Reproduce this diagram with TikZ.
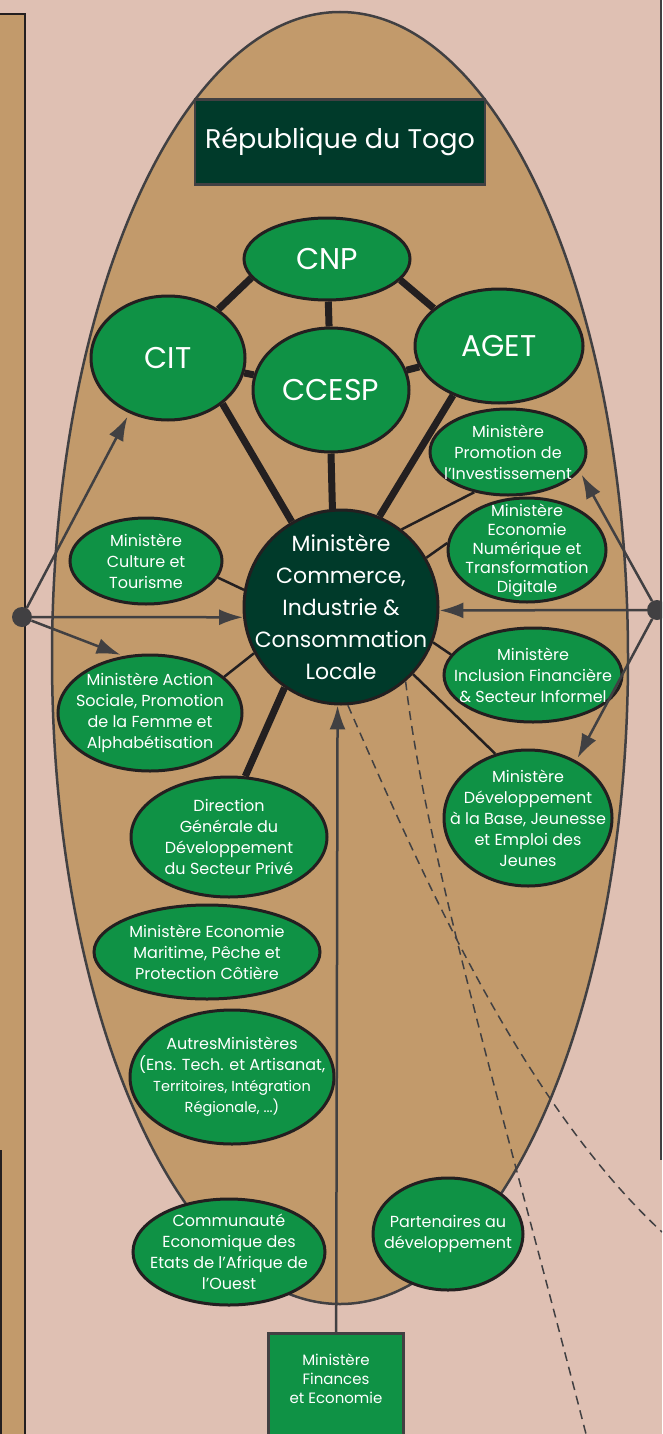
\documentclass[tikz,border=0pt]{standalone}
\usepackage{fontspec}
\setmainfont{Poppins}
\usetikzlibrary{shapes, arrows.meta}
\definecolor{togopink}{HTML}{DFC0B3}
\definecolor{togobrown}{HTML}{C29A6B}
\definecolor{togogreen}{HTML}{0F9245}
\definecolor{togodark}{HTML}{003A2A}
\definecolor{inkgray}{HTML}{414042}
\definecolor{inkblack}{HTML}{231F20}
\tikzset{
  minis/.style={
    ellipse, draw=inkblack, fill=togogreen, line width=3pt,
    inner sep=-50pt, align=center, text=white,
    font=\fontsize{16}{21}\selectfont,
  },
  organe/.style={minis, font=\fontsize{30}{36}\selectfont},
  hub/.style={minis, fill=togodark, font=\fontsize{22}{32}\selectfont},
  titlebox/.style={
    rectangle, draw=inkgray, fill=togodark, line width=2.5pt,
    minimum width=290pt, minimum height=85pt,
    text=white, font=\fontsize{27}{32}\selectfont,
  },
  finbox/.style={
    rectangle, draw=inkgray, fill=togogreen, line width=3pt,
    minimum width=135pt, align=center, text=white,
    font=\fontsize{15}{19}\selectfont,
  },
  joint/.style={circle, fill=inkgray, minimum size=20pt, inner sep=0pt},
  tie/.style={line width=2.5pt, draw=inkblack},
  thicktie/.style={line width=7pt, draw=inkblack},
  arrow/.style={
    -{Latex[length=24pt, width=16pt]}, line width=2.5pt, draw=inkgray,
  },
  dashlink/.style={line width=1.5pt, draw=inkgray, dash pattern=on 9pt off 6pt},
}

\begin{document}
\begin{tikzpicture}[x=1pt, y=-1pt]

  \clip (0,0) rectangle (662,1434);
  \fill[togopink] (0,0) rectangle (662,1434);

  % side panels and the big ellipse
  \draw[fill=togobrown, draw=inkblack, line width=2.5pt] (-20,14) rectangle (25,1460);
  \draw[inkblack, line width=1.5pt] (1,1150) -- (1,1460);
  \draw[inkgray, line width=2pt] (661,0) -- (661,1160);
  \draw[fill=togobrown, draw=inkgray, line width=2.5pt]
    (340,658) ellipse [x radius=288, y radius=646];

  \node[titlebox] (rep) at (340,142) {République du Togo};

  \node[organe, minimum width=166pt, minimum height=82pt]  (cnp)   at (327,259) {CNP};
  \node[organe, minimum width=154pt, minimum height=124pt] (cit)   at (168,358) {CIT};
  \node[organe, minimum width=156pt, minimum height=124pt] (ccesp) at (331,390) {CCESP};
  \node[organe, minimum width=168pt, minimum height=114pt] (aget)  at (499,346) {AGET};

  \node[hub, minimum width=194pt, minimum height=194pt] (hub) at (341,607)
    {Ministère\\Commerce,\\Industrie \&\\Consommation\\Locale};

  \node[minis, minimum width=156pt, minimum height=86pt] (promo) at (508,452)
    {Ministère\\Promotion de\\l’Investissement};
  \node[minis, minimum width=158pt, minimum height=104pt,
        font=\fontsize{16}{19}\selectfont] (numer) at (527,550)
    {Ministère\\Economie\\Numérique et\\Transformation\\Digitale};
  \node[minis, minimum width=178pt, minimum height=94pt] (inclu) at (533,675)
    {Ministère\\Inclusion Financière\\\& Secteur Informel};
  \node[minis, minimum width=168pt, minimum height=136pt] (devel) at (528,818)
    {Ministère\\Développement\\à la Base, Jeunesse\\et Emploi des\\Jeunes};
  \node[minis, minimum width=152pt, minimum height=86pt] (cult) at (146,561)
    {Ministère\\Culture et\\Tourisme};
  \node[minis, minimum width=184pt, minimum height=116pt] (social) at (150,713)
    {Ministère Action\\Sociale, Promotion\\de la Femme et\\Alphabétisation};
  \node[minis, minimum width=196pt, minimum height=120pt] (dgdsp) at (229,837)
    {Direction\\Générale du\\Développement\\du Secteur Privé};
  \node[minis, minimum width=226pt, minimum height=94pt] (marit) at (207,952)
    {Ministère Economie\\Maritime, Pêche et\\Protection Côtière};
  \node[minis, minimum width=204pt, minimum height=134pt] (autres) at (232,1077)
    {AutresMinistères\\(Ens. Tech. et Artisanat,\\
     {\fontsize{14.5}{21}\selectfont Territoires, Intégration}\\
     {\fontsize{14.5}{21}\selectfont Régionale, ...)}};
  \node[minis, minimum width=192pt, minimum height=106pt] (cedeao) at (229,1252)
    {Communauté\\Economique des\\Etats de l’Afrique de\\l’Ouest};
  \node[minis, minimum width=150pt, minimum height=112pt] (ptf) at (448,1234)
    {Partenaires au\\développement};

  \node[finbox, anchor=north, inner ysep=20pt, text depth=80pt] (fin) at (336,1332)
    {Ministère\\Finances\\et Economie};

  \node[joint] (ldot) at (22,617) {};
  \node[joint] (rdot) at (657,610) {};
  \coordinate (edgeR) at (662,1232);
  \coordinate (edgeB) at (586,1434);

  % thick links between the councils and the ministry
  \draw[thicktie] (cnp.-166) -- (cit.44);
  \draw[thicktie] (cnp.-16) -- (aget.150);
  \draw[thicktie] (cnp) -- (ccesp);
  \draw[thicktie] (cit) -- (ccesp);
  \draw[thicktie] (ccesp) -- (aget);
  \draw[thicktie] (cit.-40) -- (hub.120);
  \draw[thicktie] (ccesp.south) -- (hub.95);
  \draw[thicktie] (aget.-133) -- (hub.67);
  \draw[thicktie] (hub.-125) -- (dgdsp.75);

  % thin links
  \draw[tie] (hub.52) -- (promo.-130);
  \draw[tie] (hub.30) -- (numer.175);
  \draw[tie] (hub.-21) -- (inclu.166);
  \draw[tie] (hub.-43) -- (devel.117);
  \draw[tie] (hub.170) -- (cult.-13);
  \draw[tie] (hub.-152) -- (social.26);

  \draw[arrow, shorten >=4pt] (ldot) -- (cit.235);
  \draw[arrow] (ldot) -- (hub.186);
  \draw[arrow, shorten >=3pt] (ldot) -- (social.115);
  \draw[arrow, shorten >=4pt] (rdot) -- (promo.-15);
  \draw[arrow] (rdot) -- (hub.358);
  \draw[arrow, shorten >=3pt] (rdot) -- (devel.50);
  \draw[arrow] (fin) -- (hub.268);

  \draw[dashlink] (hub.-49) .. controls (425,850) and (500,1100) .. (edgeB);
  \draw[dashlink] (hub.-86) .. controls (420,870) and (520,1100) .. (edgeR);

\end{tikzpicture}
\end{document}
